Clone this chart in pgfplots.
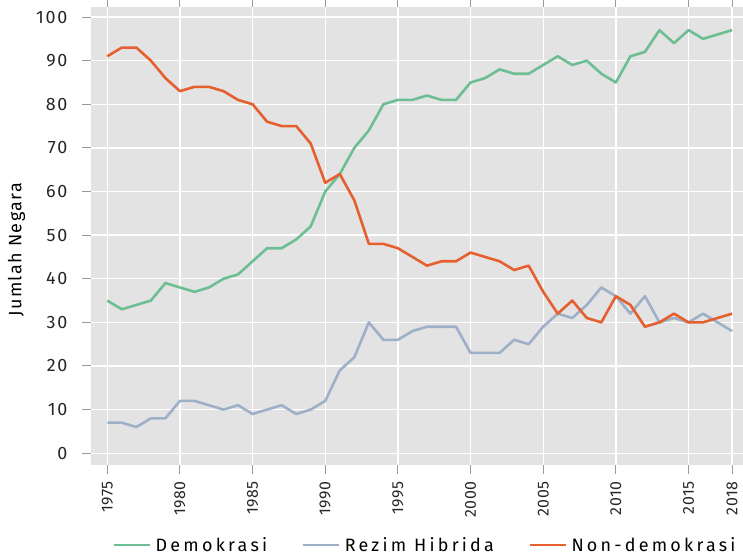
\documentclass[border=0pt]{standalone}
\usepackage{fontspec}
\setmainfont{Fira Sans}
\usepackage{pgfplots}
\pgfplotsset{compat=1.18}
\definecolor{cdem}{HTML}{6DBF93}
\definecolor{chyb}{HTML}{9EB0C8}
\definecolor{cnon}{HTML}{E6602F}
\definecolor{bgc}{HTML}{E3E3E3}
\begin{document}
\begin{tikzpicture}
\begin{axis}[name=ax, scale only axis, width=652bp, height=458bp,
 xmin=1973.88, xmax=2018.75, ymin=-2.7, ymax=102.3,
 xtick={1975,1980,1985,1990,1995,2000,2005,2010,2015,2018},
 ytick={0,10,...,100},
 axis background/.style={fill=bgc}, axis line style={draw=none},
 grid=major, major grid style={white, line width=1.3bp},
 tick align=outside, major tick length=9bp, tick style={black!40, line width=1bp},
 /pgf/number format/assume math mode=true,
 /pgf/number format/1000 sep={},
 xticklabel style={rotate=90, anchor=east, font=\fontsize{16}{16}\selectfont\addfontfeature{LetterSpace=3}, text=black!85},
 xticklabel shift=4bp,
 yticklabel style={font=\fontsize{18}{18}\selectfont\addfontfeature{LetterSpace=10}, text=black!85},
 yticklabel shift=11bp,
 ylabel={Jumlah Negara},
 ylabel style={font=\fontsize{18}{18}\selectfont\addfontfeature{LetterSpace=8}, at={(axis description cs:-0.114,0.47)}, anchor=center},
 legend columns=3,
 legend style={draw=none, fill=none, at={(axis description cs:0.512,-0.175)}, anchor=center,
   font=\fontsize{18}{18}\selectfont\addfontfeature{LetterSpace=18},
   nodes={inner sep=1bp},
   /tikz/every odd column/.append style={column sep=3bp},
   /tikz/every even column/.append style={column sep=34bp}},
 legend image code/.code={\draw[#1, line width=2.6bp] (0bp,0bp) -- (36bp,0bp);},
 line join=round,
]
\addplot[cdem, line width=2.6bp] coordinates {
(1975,35)(1976,33)(1977,34)(1978,35)(1979,39)(1980,38)(1981,37)(1982,38)(1983,40)(1984,41)
(1985,44)(1986,47)(1987,47)(1988,49)(1989,52)(1990,60)(1991,64)(1992,70)(1993,74)(1994,80)
(1995,81)(1996,81)(1997,82)(1998,81)(1999,81)(2000,85)(2001,86)(2002,88)(2003,87)(2004,87)
(2005,89)(2006,91)(2007,89)(2008,90)(2009,87)(2010,85)(2011,91)(2012,92)(2013,97)(2014,94)
(2015,97)(2016,95)(2017,96)(2018,97)};
\addlegendentry{Demokrasi}
\addplot[chyb, line width=2.6bp] coordinates {
(1975,7)(1976,7)(1977,6)(1978,8)(1979,8)(1980,12)(1981,12)(1982,11)(1983,10)(1984,11)
(1985,9)(1986,10)(1987,11)(1988,9)(1989,10)(1990,12)(1991,19)(1992,22)(1993,30)(1994,26)
(1995,26)(1996,28)(1997,29)(1998,29)(1999,29)(2000,23)(2001,23)(2002,23)(2003,26)(2004,25)
(2005,29)(2006,32)(2007,31)(2008,34)(2009,38)(2010,36)(2011,32)(2012,36)(2013,30)(2014,31)
(2015,30)(2016,32)(2017,30)(2018,28)};
\addlegendentry{Rezim Hibrida}
\addplot[cnon, line width=2.6bp] coordinates {
(1975,91)(1976,93)(1977,93)(1978,90)(1979,86)(1980,83)(1981,84)(1982,84)(1983,83)(1984,81)
(1985,80)(1986,76)(1987,75)(1988,75)(1989,71)(1990,62)(1991,64)(1992,58)(1993,48)(1994,48)
(1995,47)(1996,45)(1997,43)(1998,44)(1999,44)(2000,46)(2001,45)(2002,44)(2003,42)(2004,43)
(2005,37)(2006,32)(2007,35)(2008,31)(2009,30)(2010,36)(2011,34)(2012,29)(2013,30)(2014,32)
(2015,30)(2016,30)(2017,31)(2018,32)};
\addlegendentry{Non-demokrasi}
\end{axis}
\pgfresetboundingbox
\path[use as bounding box] ([xshift=-91bp,yshift=-93bp]ax.south west) rectangle ([yshift=7bp]ax.north east);
\end{tikzpicture}
\end{document}
